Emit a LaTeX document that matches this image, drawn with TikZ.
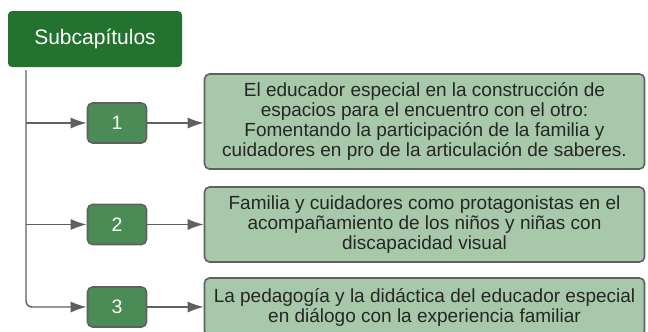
\documentclass[tikz,border=0pt]{standalone}
\usepackage{fontspec}
\setmainfont{Liberation Sans}
\usepackage{xcolor}
\usepackage{tikz}
\usetikzlibrary{arrows.meta}
\definecolor{headgreen}{HTML}{23722F}
\definecolor{numgreen}{HTML}{4B8B55}
\definecolor{textgreen}{HTML}{A7C8A9}
\definecolor{edgegray}{HTML}{606060}
\tikzset{>={Latex[length=16pt,width=11pt]}}

\begin{document}
\begin{tikzpicture}[x=1pt, y=-1pt]
\tikzset{headbox/.style={rectangle, rounded corners=4pt, fill=headgreen, text=white, font=\fontsize{21}{24}\selectfont, minimum width=174pt, minimum height=56pt, inner sep=0pt}}
\tikzset{numbox/.style={rectangle, rounded corners=5pt, draw=edgegray, line width=1.6pt, fill=numgreen, text=white, font=\fontsize{19.5}{22}\selectfont, minimum width=59pt, minimum height=40pt, inner sep=0pt}}
\tikzset{textbox/.style={rectangle, rounded corners=5pt, draw=edgegray, line width=1.6pt, fill=textgreen, text=black!85, font=\fontsize{19}{20}\selectfont, align=center, minimum width=440pt, inner sep=0pt}}
\tikzset{link/.style={draw=edgegray, line width=1.4pt, ->}}
    \useasboundingbox (0,0) rectangle (648,332);

    \node[headbox] (head) at (95,39) {Subcapítulos};

    \node[numbox] (n1) at (117,123) {1};
    \node[numbox] (n2) at (117,224.5) {2};
    \node[numbox] (n3) at (117,307) {3};

    \node[textbox, minimum height=95pt] (t1) at (424.5,121.5) {El educador especial en la construcción de\\espacios para el encuentro con el otro:\\Fomentando la participación de la familia y\\cuidadores en pro de la articulación de saberes.};
    \node[textbox, minimum height=75pt] (t2) at (424.5,224.5) {Familia y cuidadores como protagonistas en el\\acompañamiento de los niños y niñas con\\discapacidad visual};
    \node[textbox, minimum height=58pt] (t3) at (424.5,307) {La pedagogía y la didáctica del educador especial\\en diálogo con la experiencia familiar};

    \coordinate (top) at (26,70);
    \coordinate (b1) at (26,123);
    \coordinate (b2) at (26,224.5);

% % % % % % % % % % % % % % % % % % %
    \draw[link, rounded corners=6pt] (top) |- (n3);
    \draw[link] (b1) -- (n1);
    \draw[link] (b2) -- (n2);

    \draw[link] (n1) -- (t1.west |- n1);
    \draw[link] (n2) -- (t2);
    \draw[link] (n3) -- (t3);
\end{tikzpicture}
\end{document}
